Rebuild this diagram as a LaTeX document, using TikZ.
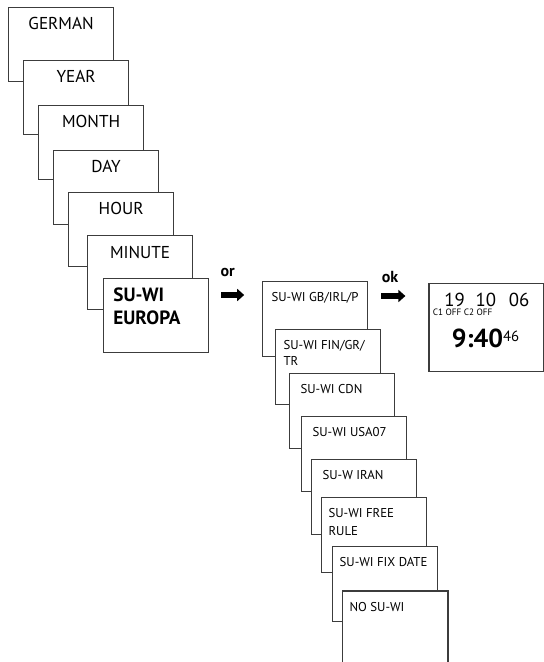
\documentclass[tikz,border=0pt]{standalone}
\usepackage{fontspec}
\setmainfont{PT Sans}
\usepackage{tikz}
\usetikzlibrary{arrows.meta,positioning}
\definecolor{scrgray}{RGB}{60,60,60}
\tikzstyle{screen} = [rectangle, minimum width=52.5pt, minimum height=37pt, inner sep=0pt, draw=scrgray, fill=white, line width=0.6pt]
\tikzstyle{openscreen} = [rectangle, minimum width=52.5pt, minimum height=35.5pt, inner sep=0pt, fill=white]
\tikzstyle{menutext} = [inner sep=0pt, font=\fontsize{8.6pt}{9pt}\selectfont, anchor=base]
\tikzstyle{subtext} = [inner sep=0pt, font=\fontsize{6.4pt}{8pt}\selectfont, anchor=base west, align=left]
\tikzstyle{keytext} = [inner sep=0pt, font=\fontsize{8pt}{9pt}\selectfont\bfseries, anchor=base west]
\tikzstyle{arrow} = [line width=2.6pt, -{Triangle[length=3.5pt,width=6pt]}, color=black]

\begin{document}
\begin{tikzpicture}
\useasboundingbox (0,0) rectangle (271.5pt,-331pt);
% Setting menu
\node (german) [screen, anchor=north west] at (4pt,-3.5pt) {};
\node (year) [screen, below right=26.5pt and 7.5pt of german.north west] {};
\node (month) [screen, below right=22.5pt and 7.5pt of year.north west] {};
\node (day) [screen, below right=22.5pt and 7.5pt of month.north west] {};
\node (hour) [screen, below right=21pt and 7.5pt of day.north west] {};
\node (minute) [screen, below right=21.5pt and 9.5pt of hour.north west] {};
\node (europa) [screen, below right=21.5pt and 8pt of minute.north west] {};
\node [menutext] at ([yshift=-11.25pt]german.north) {GERMAN};
\node [menutext] at ([yshift=-11.5pt]year.north) {YEAR};
\node [menutext] at ([yshift=-11.5pt]month.north) {MONTH};
\node [menutext] at ([yshift=-11.5pt]day.north) {DAY};
\node [menutext] at ([yshift=-11.5pt]hour.north) {HOUR};
\node [menutext] at ([yshift=-11.5pt]minute.north) {MINUTE};
% (two-line texts sit on their last line)
\node [subtext, font=\fontsize{9.6pt}{11.5pt}\selectfont\bfseries] at ([xshift=5pt,yshift=-23.3pt]europa.north west) {SU-WI\\EUROPA};

% Summer/winter rules
\node (gbirl) [screen, minimum height=37.5pt, right=26.5pt of europa.north east, anchor=north west, yshift=-1.5pt] {};
\node (fingr) [screen, minimum height=37.5pt, below right=24pt and 6.5pt of gbirl.north west] {};
\node (cdn) [screen, minimum height=37.5pt, below right=22pt and 7pt of fingr.north west] {};
\node (usa) [screen, minimum height=37.5pt, below right=21.5pt and 6pt of cdn.north west] {};
\node (iran) [screen, minimum height=37.5pt, below right=21.5pt and 5pt of usa.north west] {};
\node (freerule) [screen, minimum height=37.5pt, below right=19pt and 5pt of iran.north west] {};
\node (fixdate) [screen, minimum height=37.5pt, below right=24.5pt and 5.5pt of freerule.north west] {};
\node (nosuwi) [openscreen, below right=22.5pt and 5pt of fixdate.north west] {};
\draw [draw=scrgray, line width=0.6pt] (nosuwi.south west) |- (nosuwi.north east) -- (nosuwi.south east);
\node [subtext] at ([xshift=4.5pt,yshift=-10.3pt]gbirl.north west) {SU-WI GB/IRL/P};
\node [subtext] at ([xshift=4pt,yshift=-18pt]fingr.north west) {SU-WI FIN/GR/\\TR};
\node [subtext] at ([xshift=5.5pt,yshift=-10pt]cdn.north west) {SU-WI CDN};
\node [subtext] at ([xshift=5.5pt,yshift=-10pt]usa.north west) {SU-WI USA07};
\node [subtext] at ([xshift=5.5pt,yshift=-10pt]iran.north west) {SU-W IRAN};
\node [subtext, font=\fontsize{6.4pt}{9pt}\selectfont] at ([xshift=3.5pt,yshift=-19pt]freerule.north west) {SU-WI FREE\\RULE};
\node [subtext] at ([xshift=3.5pt,yshift=-10pt]fixdate.north west) {SU-WI FIX DATE};
\node [subtext] at ([xshift=3.5pt,yshift=-10pt]nosuwi.north west) {NO SU-WI};

% Display
\node (display) [screen, minimum width=57.5pt, minimum height=44pt, right=30pt of gbirl.north east, anchor=north west, yshift=-1pt] {};
\node (date) [inner sep=0pt, anchor=base west, font=\fontsize{9.4pt}{10pt}\selectfont] at ([xshift=7.8pt,yshift=-11.5pt]display.north west) {19\hspace{5.4pt}10\hspace{6.4pt}06};
\node (chan) [inner sep=0pt, anchor=base west, font=\fontsize{4.6pt}{5pt}\selectfont] at ([xshift=2pt,yshift=-16pt]display.north west) {C1 OFF C2 OFF};
\node (clock) [inner sep=0pt, anchor=base west, font=\fontsize{13pt}{14pt}\selectfont\bfseries] at ([xshift=11.5pt,yshift=-32pt]display.north west) {9:40\raisebox{3pt}{\fontsize{7.4pt}{8pt}\selectfont\mdseries 46}};

% Key arrows
\coordinate (orstart) at ([xshift=6pt,yshift=-8.5pt]europa.north east);
\coordinate (orend) at ([xshift=17.5pt,yshift=-8.5pt]europa.north east);
\draw[arrow] (orstart) -- (orend);
\node (ortext) [keytext] at ([xshift=-0.5pt,yshift=9pt]orstart) {or};
\coordinate (okstart) at ([xshift=6.5pt,yshift=-7.5pt]gbirl.north east);
\coordinate (okend) at ([xshift=18.5pt,yshift=-7.5pt]gbirl.north east);
\draw[arrow] (okstart) -- (okend);
\node (oktext) [keytext] at ([xshift=0pt,yshift=7pt]okstart) {ok};
\end{tikzpicture}
\end{document}
